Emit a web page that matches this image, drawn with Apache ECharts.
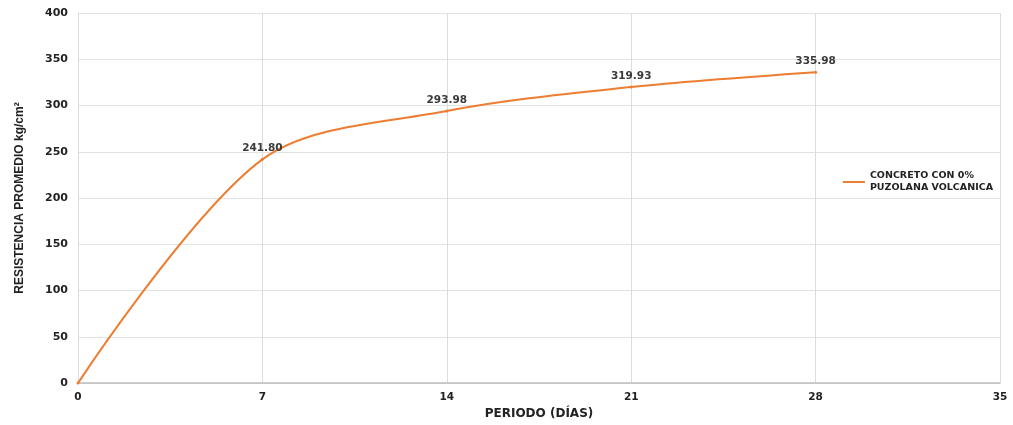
<!DOCTYPE html>
<html>
<head>
<meta charset="utf-8">
<script src="https://cdn.jsdelivr.net/npm/echarts@6/dist/echarts.min.js"></script>
<style>
  html, body { margin: 0; padding: 0; background: #fff; }
  #chart { width: 1013px; height: 425px; }
</style>
</head>
<body>
<div id="chart"></div>
<script>
// edad del concreto (días) y resistencia promedio (kg/cm2)
const dias = [0, 7, 14, 21, 28];
const resistencia = [0, 241.80, 293.98, 319.93, 335.98];
const serieNombre = 'CONCRETO CON 0%\nPUZOLANA VOLCANICA';

const chart = echarts.init(document.getElementById('chart'));
const font = '"Liberation Sans", Arial, sans-serif';
const wide = '"DejaVu Sans", sans-serif';

chart.setOption({
  animation: false,
  textStyle: { fontFamily: font },
  grid: { left: 78, right: 13, top: 13, bottom: 39 },
  legend: {
    data: [serieNombre],
    right: 20,
    top: 170,
    padding: 0,
    orient: 'vertical',
    itemWidth: 22,
    itemHeight: 2,
    icon: 'rect',
    textStyle: { fontSize: 9.5, fontWeight: 'bold', color: '#222', lineHeight: 12, fontFamily: wide }
  },
  xAxis: {
    type: 'value',
    min: 0, max: 35, interval: 7,
    name: 'PERIODO (DÍAS)',
    nameLocation: 'middle',
    nameGap: 22,
    nameTextStyle: { fontSize: 12, fontWeight: 'bold', color: '#222', fontFamily: wide },
    axisLine: { show: true, lineStyle: { color: '#bdbdbd', width: 1.5 } },
    axisTick: { show: false },
    axisLabel: { fontSize: 10.5, fontWeight: 'bold', color: '#222', margin: 9, fontFamily: wide },
    splitLine: { show: true, lineStyle: { color: '#dcdcdc' } }
  },
  yAxis: {
    type: 'value',
    min: 0, max: 400, interval: 50,
    name: 'RESISTENCIA PROMEDIO kg/cm²',
    nameLocation: 'middle',
    nameGap: 52,
    nameTextStyle: { fontSize: 12, fontWeight: 'bold', color: '#222' },
    axisLine: { show: true, lineStyle: { color: '#dcdcdc' } },
    axisTick: { show: false },
    axisLabel: { fontSize: 11, fontWeight: 'bold', color: '#222', margin: 10, fontFamily: wide },
    splitLine: { show: true, lineStyle: { color: '#e2e2e2' } }
  },
  series: [{
    name: serieNombre,
    type: 'line',
    data: dias.map((d, i) => [d, resistencia[i]]),
    smooth: 0.32,
    symbol: 'circle',
    symbolSize: 3,
    itemStyle: { color: '#ed7d31' },
    lineStyle: { color: '#ed7d31', width: 2 },
    label: {
      show: true,
      position: 'top',
      distance: 4,
      fontSize: 10.5,
      fontWeight: 'bold',
      color: '#3a3a3a',
      fontFamily: wide,
      formatter: p => p.value[0] === 0 ? '' : p.value[1].toFixed(2)
    }
  }]
});
</script>
</body>
</html>
